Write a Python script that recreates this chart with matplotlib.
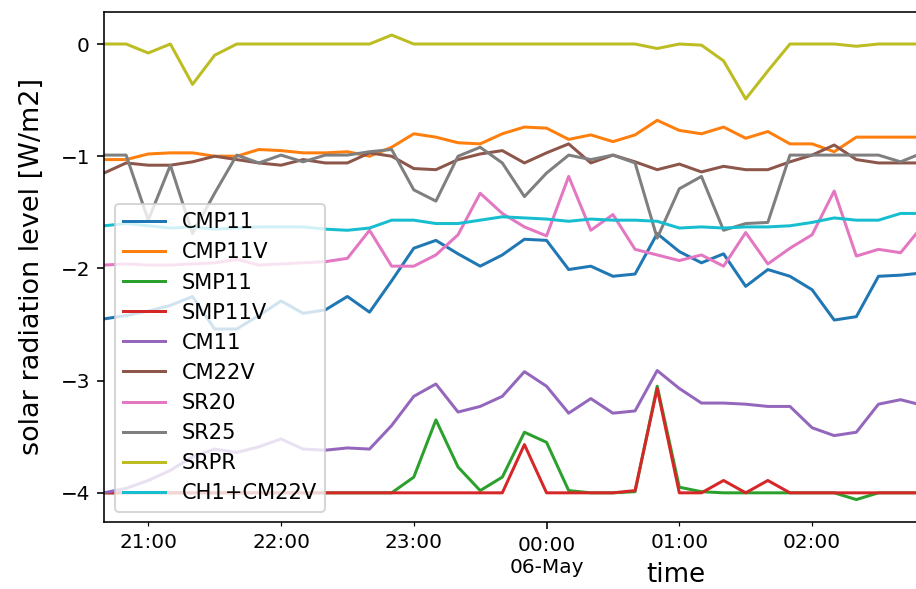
import matplotlib
matplotlib.use("Agg")
import matplotlib.pyplot as plt
import matplotlib.dates as mdates
import pandas as pd

# 10-minute samples of the night-time sensor offsets
times = pd.date_range("2021-05-05 20:40", periods=38, freq="10min")

cmp11 = [-2.45, -2.42, -2.38, -2.33, -2.25, -2.54, -2.54, -2.42, -2.29, -2.40,
         -2.37, -2.25, -2.39, -2.11, -1.82, -1.75, -1.87, -1.98, -1.88, -1.74,
         -1.75, -2.01, -1.98, -2.07, -2.05, -1.69, -1.85, -1.95, -1.87, -2.16,
         -2.01, -2.07, -2.19, -2.46, -2.43, -2.07, -2.06, -2.04]
cmp11v = [-1.03, -1.03, -0.98, -0.97, -0.97, -1.00, -1.00, -0.94, -0.95, -0.97,
          -0.97, -0.96, -1.00, -0.92, -0.80, -0.83, -0.88, -0.89, -0.80, -0.74,
          -0.75, -0.85, -0.81, -0.87, -0.81, -0.68, -0.77, -0.80, -0.74, -0.84,
          -0.78, -0.89, -0.89, -0.96, -0.83, -0.83, -0.83, -0.83]
smp11 = [-4.00, -4.00, -4.00, -4.00, -4.00, -4.00, -4.00, -4.00, -4.00, -4.00,
         -4.00, -4.00, -4.00, -4.00, -3.86, -3.35, -3.77, -3.98, -3.86, -3.46,
         -3.55, -3.98, -4.00, -4.00, -3.99, -3.05, -3.95, -3.99, -4.00, -4.00,
         -4.00, -4.00, -4.00, -4.00, -4.06, -4.00, -4.00, -4.00]
smp11v = [-4.00, -4.00, -4.00, -4.00, -4.00, -4.00, -4.00, -4.00, -4.00, -4.00,
          -4.00, -4.00, -4.00, -4.00, -4.00, -4.00, -4.00, -4.00, -4.00, -3.57,
          -4.00, -4.00, -4.00, -4.00, -3.98, -3.07, -4.00, -4.00, -3.89, -4.00,
          -3.89, -4.00, -4.00, -4.00, -4.00, -4.00, -4.00, -4.00]
cm11 = [-4.00, -3.96, -3.89, -3.80, -3.68, -3.61, -3.64, -3.59, -3.52, -3.61,
        -3.62, -3.60, -3.61, -3.40, -3.14, -3.03, -3.28, -3.23, -3.14, -2.92,
        -3.05, -3.29, -3.16, -3.29, -3.27, -2.91, -3.07, -3.20, -3.20, -3.21,
        -3.23, -3.23, -3.42, -3.49, -3.46, -3.21, -3.17, -3.22]
cm22v = [-1.15, -1.06, -1.08, -1.08, -1.05, -1.00, -1.03, -1.06, -1.08, -1.03,
         -1.06, -1.06, -0.97, -1.00, -1.11, -1.12, -1.03, -0.98, -0.95, -1.06,
         -0.97, -0.89, -1.06, -0.99, -1.05, -1.12, -1.07, -1.14, -1.09, -1.12,
         -1.12, -1.05, -0.99, -0.90, -1.03, -1.06, -1.06, -1.06]
sr20 = [-1.97, -1.96, -1.97, -1.97, -1.96, -1.95, -1.92, -1.97, -1.96, -1.95,
        -1.94, -1.91, -1.66, -1.98, -1.98, -1.88, -1.70, -1.33, -1.51, -1.63,
        -1.71, -1.18, -1.66, -1.52, -1.83, -1.88, -1.93, -1.88, -1.98, -1.68,
        -1.96, -1.82, -1.70, -1.31, -1.89, -1.83, -1.86, -1.62]
sr25 = [-0.99, -0.99, -1.57, -1.08, -1.69, -1.33, -0.99, -1.06, -0.99, -1.05,
        -0.99, -0.99, -0.96, -0.94, -1.30, -1.40, -1.00, -0.92, -1.06, -1.36,
        -1.15, -0.99, -1.03, -0.99, -1.06, -1.73, -1.29, -1.18, -1.66, -1.60,
        -1.59, -0.99, -0.99, -0.99, -0.99, -0.99, -1.05, -0.97]
srpr = [0.00, 0.00, -0.08, 0.00, -0.36, -0.10, 0.00, 0.00, 0.00, 0.00,
        0.00, 0.00, 0.00, 0.08, 0.00, 0.00, 0.00, 0.00, 0.00, 0.00,
        0.00, 0.00, 0.00, 0.00, 0.00, -0.04, 0.00, -0.01, -0.15, -0.49,
        -0.24, 0.00, 0.00, 0.00, -0.02, 0.00, 0.00, 0.00]
ch1_cm22v = [-1.62, -1.60, -1.62, -1.64, -1.63, -1.65, -1.64, -1.63, -1.63, -1.63,
             -1.65, -1.66, -1.64, -1.57, -1.57, -1.60, -1.60, -1.57, -1.54, -1.55,
             -1.56, -1.58, -1.56, -1.57, -1.57, -1.58, -1.64, -1.63, -1.64, -1.63,
             -1.63, -1.62, -1.59, -1.55, -1.57, -1.57, -1.51, -1.51]

series_names = ["CMP11", "CMP11V", "SMP11", "SMP11V", "CM11", "CM22V",
                "SR20", "SR25", "SRPR", "CH1+CM22V"]
series_values = [cmp11, cmp11v, smp11, smp11v, cm11, cm22v,
                 sr20, sr25, srpr, ch1_cm22v]

x_start = pd.Timestamp("2021-05-05 20:40")
x_end = pd.Timestamp("2021-05-06 05:17")

W, H, DPI = 916, 589, 144
fig = plt.figure(figsize=(W / DPI, H / DPI), dpi=DPI)
ax = fig.add_axes([104 / W, 67 / H, 1144 / W, 510.3 / H])

for name, vals in zip(series_names, series_values):
    ax.plot(times, vals, label=name, lw=1.5)

ax.set_xlim(x_start, x_end)
ax.set_ylim(-4.26, 0.288)
ax.set_yticks([0, -1, -2, -3, -4])

# day boundaries as major ticks, hours as minor ticks
ax.xaxis.set_major_locator(mdates.DayLocator())
ax.xaxis.set_major_formatter(mdates.DateFormatter("%H:%M\n%d-%b"))


def hour_label(x, pos=None):
    d = mdates.num2date(x)
    if d.hour == 0 and d.minute == 0:
        return ""
    return d.strftime("%H:%M")


ax.xaxis.set_minor_locator(mdates.HourLocator(interval=1))
ax.xaxis.set_minor_formatter(plt.FuncFormatter(hour_label))

ax.set_xlabel("time", fontsize=13)
ax.xaxis.set_label_coords(0.5, -0.078)
ax.set_ylabel("solar radiation level [W/m2]", fontsize=13.5, labelpad=8)
ax.legend(loc="lower left", fontsize=10.5, labelspacing=0.48)

fig.savefig("out.png", dpi=DPI)
